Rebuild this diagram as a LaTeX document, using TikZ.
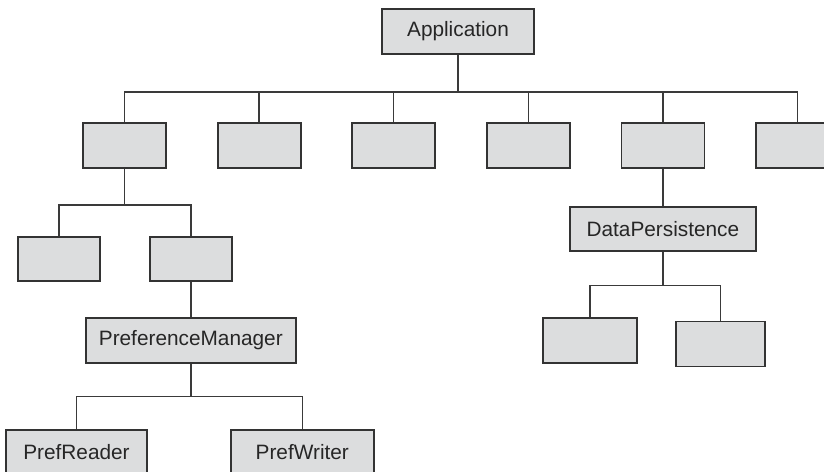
\documentclass[tikz,border=0pt]{standalone}
\usepackage{fontspec}
\setmainfont{Liberation Sans}
\usetikzlibrary{positioning}
\definecolor{boxfill}{HTML}{DCDDDE}
\definecolor{boxline}{HTML}{333333}
\definecolor{wire}{HTML}{3A3A3A}

\begin{document}
\begin{tikzpicture}[
    x=1pt, y=1pt,
    module/.style={rectangle, draw=boxline, line width=1.8pt, fill=boxfill, minimum width=83pt, minimum height=45pt, inner sep=0pt, text=black!85, font=\fontsize{20.8}{24}\selectfont},
    link/.style={draw=wire, line width=1.4pt}
]
\useasboundingbox (0,0) rectangle (824,-471);

% Top - application
\node[module, minimum width=152pt] (app) at (458,-31.5) {Application};
\coordinate[below=37pt of app] (app_bus);

% Second row - six subsystems
\node[module] (sub1) at (124.5,-145.5) {};
\node[module, right=49.8pt of sub1] (sub2) {};
\node[module, right=49.8pt of sub2] (sub3) {};
\node[module, right=49.8pt of sub3] (sub4) {};
\node[module, right=49.8pt of sub4] (sub5) {};
\node[module, right=49.8pt of sub5] (sub6) {};

% Left branch - preferences
\coordinate[below=36pt of sub1] (sub1_bus);
\node[module, minimum width=82pt, minimum height=44pt] (leaf_a) at (59,-259) {};
\node[module, minimum width=82pt, minimum height=44pt, right=48pt of leaf_a] (leaf_b) {};
\node[module, minimum width=210pt, below=35pt of leaf_b] (pref_mgr) {PreferenceManager};
\coordinate[below=33pt of pref_mgr] (pref_bus);
\node[module, minimum width=141pt] (pref_reader) at (76.5,-452.5) {PrefReader};
\node[module, minimum width=143pt, right=82pt of pref_reader] (pref_writer) {PrefWriter};

% Right branch - persistence
\node[module, minimum width=186pt, minimum height=44pt, below=37pt of sub5] (data_pers) {DataPersistence};
\coordinate[below=34pt of data_pers] (data_bus);
\node[module, minimum width=94pt] (store_a) at (590,-340.5) {};
\node[module, minimum width=89pt] (store_b) at (720.5,-344) {};

% Connectors
\draw[link] (app) -- (app_bus);
\foreach \i in {1,...,6}
    \draw[link] (app_bus) -| (sub\i.north);
\draw[link] (sub1) -- (sub1_bus);
\draw[link] (sub1_bus) -| (leaf_a.north);
\draw[link] (sub1_bus) -| (leaf_b.north);
\draw[link] (leaf_b) -- (pref_mgr);
\draw[link] (pref_mgr) -- (pref_bus);
\draw[link] (pref_bus) -| (pref_reader.north);
\draw[link] (pref_bus) -| (pref_writer.north);
\draw[link] (sub5) -- (data_pers);
\draw[link] (data_pers) -- (data_bus);
\draw[link] (data_bus) -| (store_a.north);
\draw[link] (data_bus) -| (store_b.north);

\end{tikzpicture}
\end{document}
